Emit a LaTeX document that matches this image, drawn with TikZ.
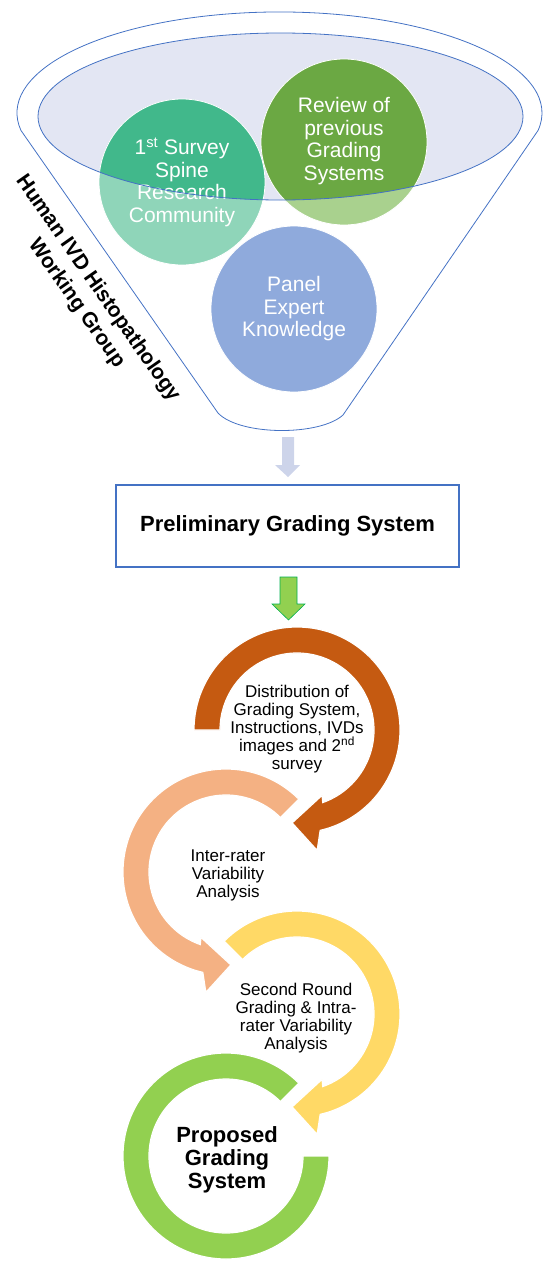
\documentclass[tikz,border=0pt]{standalone}
\usepackage{fontspec}
\setmainfont{Liberation Sans}
\usetikzlibrary{positioning,calc}
\definecolor{outlineblue}{HTML}{4472C4}
\definecolor{lavender}{HTML}{E3E6F3}
\definecolor{tealdark}{HTML}{41B88B}
\definecolor{teallight}{HTML}{8FD5B9}
\definecolor{greendark}{HTML}{6BA843}
\definecolor{greenlight}{HTML}{A9D18E}
\definecolor{panelblue}{HTML}{8FAADC}
\definecolor{arrowlav}{HTML}{CDD4EA}
\definecolor{ringbrown}{HTML}{C55A11}
\definecolor{ringpeach}{HTML}{F4B183}
\definecolor{ringyellow}{HTML}{FFD966}
\definecolor{ringgreen}{HTML}{92D050}
\definecolor{arrowedge}{HTML}{00B050}
\tikzset{
  circletext/.style={text=white, align=center, font=\fontsize{21}{22.5}\selectfont},
  ringtext/.style={text=black, align=center, font=\fontsize{17}{18}\selectfont},
  ring/.style={draw=white, line width=1.2pt}
}
\begin{document}
\begin{tikzpicture}[x=1pt,y=1pt]
  \useasboundingbox (0,0) rectangle (542,-1261);
  \draw[outlineblue, line width=0.8pt]
    (21,-130.5) arc[start angle=190, end angle=-10, x radius=262.5, y radius=101]
    -- (343,-415) .. controls (320,-436) and (240,-436) .. (218,-413) -- cycle;
  \fill[lavender] (280.5,-116.5) ellipse[x radius=242.5, y radius=83.5];
  \fill[teallight] (182,-182) circle[radius=83];
  \fill[greenlight] (344,-142) circle[radius=83];
  \begin{scope}
    \clip (280.5,-116.5) ellipse[x radius=242.5, y radius=83.5];
    \fill[tealdark] (182,-182) circle[radius=83];
    \fill[greendark] (344,-142) circle[radius=83];
  \end{scope}
  \draw[white, line width=0.8pt] (182,-182) circle[radius=83];
  \draw[white, line width=0.8pt] (344,-142) circle[radius=83];
  \fill[panelblue, draw=white, line width=0.8pt] (294,-309) circle[radius=83];
  \node[circletext] (survey) at (182,-182) {1\textsuperscript{st} Survey\\Spine\\Research\\Community};
  \node[circletext] (review) at (344,-141) {Review of\\previous\\Grading\\Systems};
  \node[circletext] (panel) at (294,-309) {Panel\\Expert\\Knowledge};
  \draw[outlineblue, line width=0.8pt] (280.5,-116.5) ellipse[x radius=242.5, y radius=83.5];
  \node[rotate=-55, align=center, font=\bfseries\fontsize{21}{26}\selectfont] (group) at (87,-296)
    {Human IVD Histopathology\\Working Group};
  \fill[arrowlav] (282,-437) -- (294,-437) -- (294,-465) -- (300,-465) -- (288,-477)
    -- (275,-465) -- (282,-465) -- cycle;
  \node[draw=outlineblue, line width=1.5pt, minimum width=343, minimum height=82,
    font=\bfseries\fontsize{22}{24}\selectfont] (prelim) at (287.5,-526) {Preliminary Grading System};
  \filldraw[fill=ringgreen, draw=arrowedge, line width=0.6pt] (280,-577) -- (297,-577) -- (297,-604)
    -- (305,-604) -- (288.5,-620) -- (272,-604) -- (280,-604) -- cycle;
  \fill[ringbrown, ring, shift={(297,-730)}] (180:103) arc[start angle=180, end angle=-77, radius=103]
    -- (-80.5:122) -- (-93:93) -- (-69:70) -- (-70.5:77) arc[start angle=-70.5, end angle=180, radius=77] -- cycle;
  \fill[ringpeach, ring, shift={(226,-872)}] (45:103) arc[start angle=45, end angle=257, radius=103]
    -- (260.5:122) -- (273:93) -- (249:70) -- (250.5:77) arc[start angle=250.5, end angle=45, radius=77] -- cycle;
  \fill[ringyellow, ring, shift={(297,-1014)}] (135:103) arc[start angle=135, end angle=-77, radius=103]
    -- (-80.5:122) -- (-93:93) -- (-69:70) -- (-70.5:77) arc[start angle=-70.5, end angle=135, radius=77] -- cycle;
  \fill[ringgreen, ring, shift={(226,-1156)}] (45:103) arc[start angle=45, end angle=360, radius=103]
    -- (0:77) arc[start angle=360, end angle=45, radius=77] -- cycle;
  \node[ringtext] (distrib) at (297,-729)
    {Distribution of\\Grading System,\\Instructions, IVDs\\images and 2\textsuperscript{nd}\\survey};
  \node[ringtext] (interrater) at (228,-875) {Inter-rater\\Variability\\Analysis};
  \node[ringtext] (secondround) at (296,-1018) {Second Round\\Grading \& Intra-\\rater Variability\\Analysis};
  \node[align=center, font=\bfseries\fontsize{22}{23}\selectfont] (proposed) at (227,-1160)
    {Proposed\\Grading\\System};
\end{tikzpicture}
\end{document}
